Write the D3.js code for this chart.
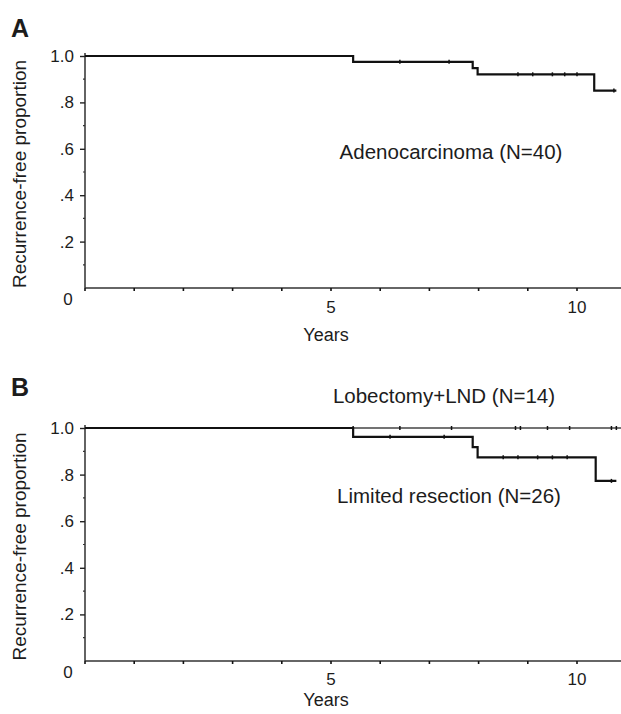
<!DOCTYPE html>
<html><head><meta charset="utf-8">
<script src="https://cdn.jsdelivr.net/npm/d3@7"></script>
<style>body{margin:0;background:#fff}text{font-family:"Liberation Sans",Arial,sans-serif;fill:#1c1c1c}</style>
</head><body>
<svg id="c" width="621" height="714"></svg>
<script>
// ---- data ----
const yearTicks = [0,1,2,3,4,5,6,7,8,9,10];
const yearLabels = [5, 10];
const yMajor = [0.2, 0.4, 0.6, 0.8, 1.0];
const yMajorLabels = [".2", ".4", ".6", ".8", "1.0"];
const yMinor = [0.1, 0.3, 0.5, 0.7, 0.9];
const xMax = 10.9;

// Panel A: Adenocarcinoma (N=40)
const adenoTime = [0, 5.45, 7.88, 7.98, 10.35, 10.8];
const adenoSurv = [1.0, 0.975, 0.948, 0.921, 0.851, 0.851];
const adenoCensor = [6.4, 7.4, 8.8, 9.1, 9.5, 9.75, 10.0, 10.75];

// Panel B
const lobTime = [0, 10.9];
const lobSurv = [1.0, 1.0];
const lobCensor = [5.45, 6.4, 7.45, 8.75, 8.85, 9.4, 9.85, 10.7, 10.8];
const limTime = [0, 5.45, 7.88, 7.98, 10.38, 10.8];
const limSurv = [1.0, 0.962, 0.918, 0.874, 0.773, 0.773];
const limCensor = [6.2, 7.3, 8.5, 8.8, 9.2, 9.5, 9.8, 10.7];

const panels = [
  {letter:"A", top:56, bottom:288, letterY:37, yearsY:341, tickY:313,
   series:[{t:adenoTime,s:adenoSurv,c:adenoCensor,w:2.2,col:"#111"}],
   labels:[{text:"Adenocarcinoma (N=40)", x:451, y:159}]},
  {letter:"B", top:428, bottom:661, letterY:396, yearsY:706, tickY:685,
   series:[{t:lobTime,s:lobSurv,c:lobCensor,w:1.3,col:"#444"},
           {t:limTime,s:limSurv,c:limCensor,w:2.2,col:"#111"}],
   labels:[{text:"Lobectomy+LND (N=14)", x:444, y:403},
           {text:"Limited resection (N=26)", x:449, y:503}]}
];

const svg = d3.select("#c");
const x = d3.scaleLinear().domain([0, 10]).range([85, 577]);

panels.forEach(p => {
  const y = d3.scaleLinear().domain([0, 1]).range([p.bottom, p.top]);
  const g = svg.append("g");

  g.append("text").attr("x", 11).attr("y", p.letterY)
    .attr("font-size", 25).attr("font-weight", "bold").text(p.letter);

  // y axis
  const ya = d3.axisLeft(y).tickValues(yMajor).tickSize(5).tickPadding(6)
    .tickFormat((d,i) => yMajorLabels[i]);
  const yg = g.append("g").attr("transform", `translate(${x(0)},0)`).call(ya);
  yg.select(".domain").attr("stroke", "#222").attr("stroke-width", 1.4)
    .attr("d", `M0,${y(0)}V${y(1)-3}`);
  yg.selectAll(".tick line").attr("stroke", "#222").attr("stroke-width", 1.4);
  yg.selectAll(".tick text").attr("font-size", 17).attr("font-family", "Liberation Sans, Arial, sans-serif").attr("fill", "#1c1c1c");
  g.selectAll(".yminor").data(yMinor).join("line")
    .attr("x1", x(0) - 2).attr("x2", x(0)).attr("y1", d => y(d)).attr("y2", d => y(d))
    .attr("stroke", "#333").attr("stroke-width", 1.2);
  g.append("text").attr("x", x(0) - 17).attr("y", y(0) + 17)
    .attr("font-size", 17).attr("text-anchor", "middle").text("0");

  // x axis
  g.append("line").attr("x1", x(0)).attr("x2", x(xMax)).attr("y1", y(0)).attr("y2", y(0))
    .attr("stroke", "#333").attr("stroke-width", 1.3);
  g.selectAll(".xt").data(yearTicks).join("line")
    .attr("x1", d => x(d)).attr("x2", d => x(d)).attr("y1", y(0)).attr("y2", y(0) + 3)
    .attr("stroke", "#111").attr("stroke-width", 1.6);
  g.selectAll(".xl").data(yearLabels).join("text")
    .attr("x", d => x(d)).attr("y", p.tickY).attr("text-anchor", "middle")
    .attr("font-size", 17).text(d => d);
  g.append("text").attr("x", 326).attr("y", p.yearsY).attr("text-anchor", "middle")
    .attr("font-size", 18).text("Years");

  // y title
  g.append("text").attr("transform", `translate(26,${(y(0)+y(1))/2 + 2}) rotate(-90)`)
    .attr("text-anchor", "middle").attr("font-size", 19).text("Recurrence-free proportion");

  // curves
  const line = d3.line().x(d => x(d[0])).y(d => y(d[1])).curve(d3.curveStepAfter);
  p.series.forEach(s => {
    const pts = s.t.map((t, i) => [t, s.s[i]]);
    g.append("path").attr("d", line(pts)).attr("fill", "none")
      .attr("stroke", s.col).attr("stroke-width", s.w);
    const survAt = t => { let v = s.s[0]; s.t.forEach((tt, i) => { if (tt <= t) v = s.s[i]; }); return v; };
    g.selectAll(null).data(s.c).join("line")
      .attr("x1", d => x(d)).attr("x2", d => x(d))
      .attr("y1", d => y(survAt(d)) - 2).attr("y2", d => y(survAt(d)) + 2)
      .attr("stroke", "#111").attr("stroke-width", 1.5);
  });

  p.labels.forEach(l => {
    g.append("text").attr("x", l.x).attr("y", l.y).attr("text-anchor", "middle")
      .attr("font-size", 20.5).text(l.text);
  });
});
</script>
</body></html>
